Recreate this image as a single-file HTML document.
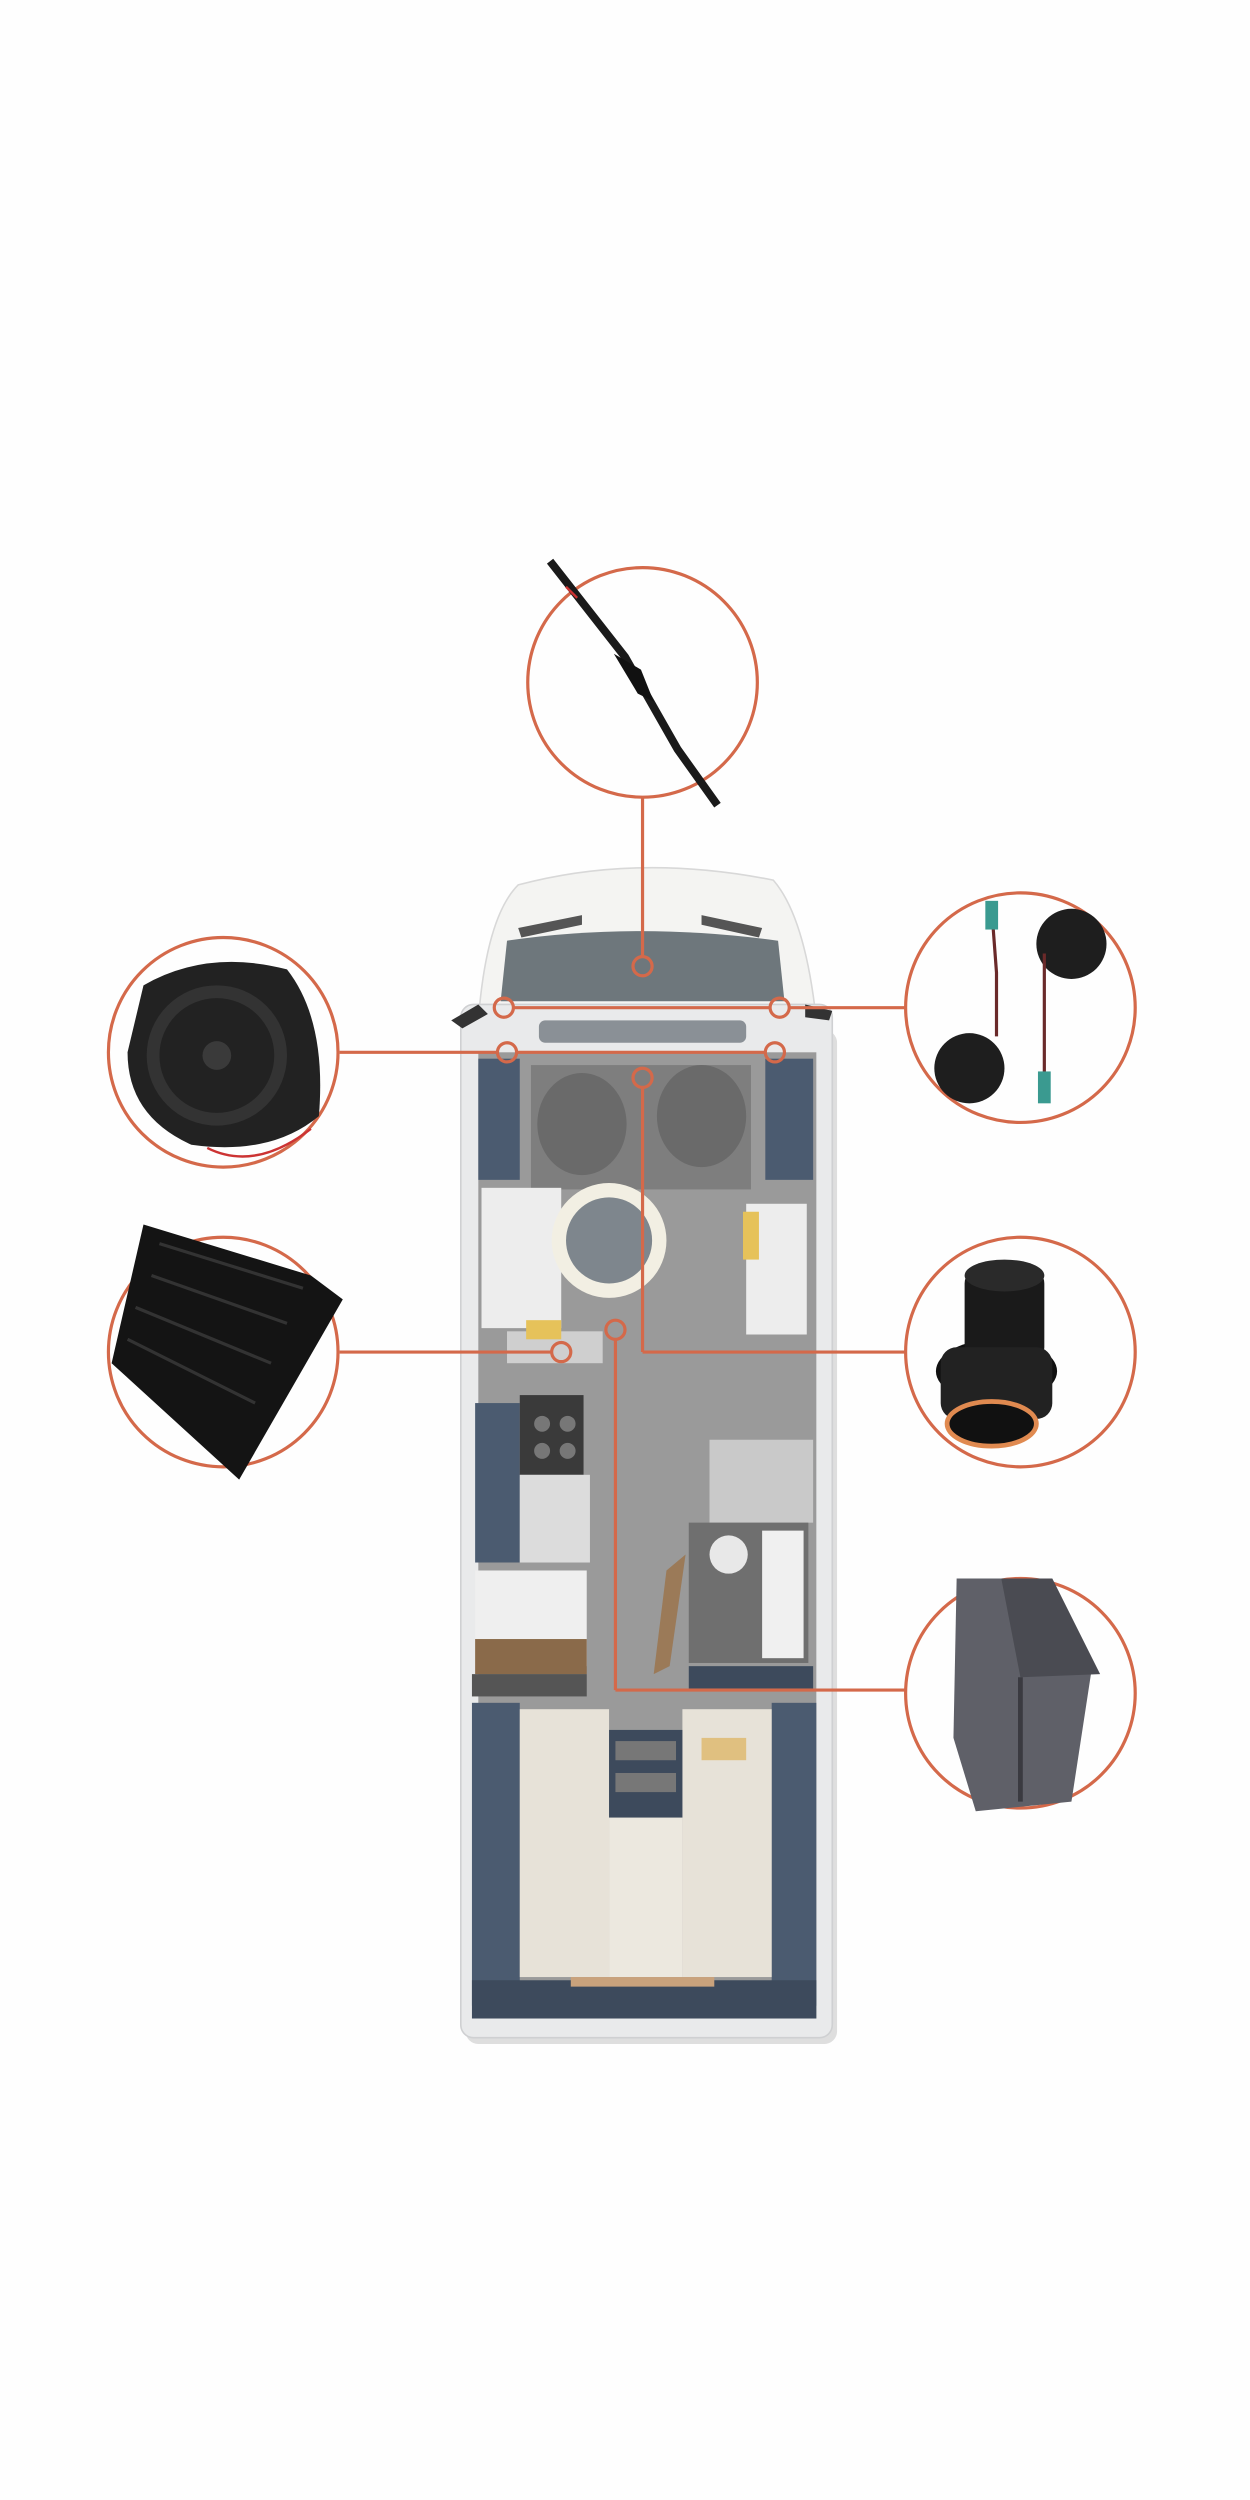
<!DOCTYPE html>
<html><head><meta charset="utf-8"><style>html,body{margin:0;padding:0;background:#fff}svg{display:block}</style></head>
<body>
<svg width="1250" height="2500" viewBox="0 0 1250 2500" xmlns="http://www.w3.org/2000/svg">
<rect width="1250" height="2500" fill="#fefefe"/>
<g transform="scale(1.5944)">
<!-- van body -->
<rect x="292" y="646" width="233" height="636" rx="8" fill="#bdbdbd" opacity="0.5"/>
<path d="M300 640 Q305 575 325 555 Q400 535 485 552 Q505 575 512 640 Z" fill="#f4f4f2" stroke="#d8d8d8"/>
<rect x="289" y="630" width="233" height="648" rx="8" fill="#e9eaeb" stroke="#cfd0d2"/>
<path d="M318 590 Q400 578 488 590 L492 628 L314 628 Z" fill="#6e777c"/>
<path d="M325 582 L365 574 L365 580 L327 588 Z" fill="#555"/>
<path d="M440 574 L478 582 L476 588 L440 580 Z" fill="#555"/>
<path d="M283 640 L300 630 L306 636 L290 645 Z" fill="#333"/>
<path d="M505 630 L522 634 L520 640 L505 638 Z" fill="#333"/>
<rect x="338" y="640" width="130" height="14" rx="4" fill="#8a9096"/>
<rect x="300" y="660" width="212" height="606" fill="#9a9a9a"/>
<!-- cab navy walls -->
<rect x="300" y="664" width="26" height="76" fill="#4b5b70"/>
<rect x="480" y="664" width="30" height="76" fill="#4b5b70"/>
<rect x="333" y="668" width="138" height="78" fill="#7e7e7e"/>
<ellipse cx="365" cy="705" rx="28" ry="32" fill="#6a6a6a"/>
<ellipse cx="440" cy="700" rx="28" ry="32" fill="#6a6a6a"/>
<!-- dinette -->
<rect x="302" y="745" width="50" height="88" fill="#ededed"/>
<rect x="468" y="755" width="38" height="82" fill="#ededed"/>
<rect x="466" y="760" width="10" height="30" fill="#e6c25a"/>
<circle cx="382" cy="778" r="36" fill="#f2efe3"/>
<circle cx="382" cy="778" r="27" fill="#7e868d"/>
<rect x="318" y="835" width="60" height="20" fill="#cfcfcf"/>
<rect x="330" y="828" width="22" height="12" fill="#e6c25a"/>
<!-- kitchen -->
<rect x="298" y="880" width="28" height="100" fill="#4b5b70"/>
<rect x="326" y="875" width="40" height="50" fill="#3a3a3a"/>
<circle cx="340" cy="893" r="5" fill="#777"/><circle cx="356" cy="893" r="5" fill="#777"/>
<circle cx="340" cy="910" r="5" fill="#777"/><circle cx="356" cy="910" r="5" fill="#777"/>
<rect x="326" y="925" width="44" height="55" fill="#dcdcdc"/>
<rect x="298" y="985" width="70" height="60" fill="#efefef"/>
<rect x="298" y="1028" width="70" height="22" fill="#8a6a4a"/>
<rect x="296" y="1050" width="72" height="14" fill="#555"/>
<!-- bathroom -->
<rect x="445" y="903" width="65" height="52" fill="#c9c9c9"/>
<rect x="432" y="955" width="75" height="88" fill="#6f6f6f"/>
<circle cx="457" cy="975" r="12" fill="#e8e8e8"/>
<rect x="478" y="960" width="26" height="80" fill="#f0f0f0"/>
<path d="M418 985 L430 975 L420 1045 L410 1050 Z" fill="#9b7a58"/>
<rect x="432" y="1045" width="78" height="14" fill="#3d4a5c"/>
<!-- rear -->
<rect x="296" y="1068" width="30" height="190" fill="#4b5b70"/>
<rect x="484" y="1068" width="28" height="190" fill="#4b5b70"/>
<rect x="326" y="1072" width="56" height="168" fill="#e7e2d8"/>
<rect x="428" y="1072" width="56" height="168" fill="#e7e2d8"/>
<rect x="382" y="1085" width="46" height="55" fill="#3d4a5c"/>
<rect x="386" y="1092" width="38" height="12" fill="#777"/>
<rect x="386" y="1112" width="38" height="12" fill="#777"/>
<rect x="382" y="1140" width="46" height="100" fill="#ece8df"/>
<rect x="440" y="1090" width="28" height="14" fill="#e0c080"/>
<rect x="296" y="1242" width="216" height="24" fill="#3d4a5c"/>
<rect x="358" y="1240" width="90" height="6" fill="#c9a27c"/>

<!-- connectors -->
<g fill="none" stroke="#d4694a" stroke-width="2">
<line x1="403" y1="500" x2="403" y2="600"/>
<line x1="213" y1="660" x2="312" y2="660"/><line x1="324" y1="660" x2="480" y2="660"/>
<line x1="322" y1="632" x2="483" y2="632"/><line x1="495" y1="632" x2="568" y2="632"/>
<line x1="403" y1="682" x2="403" y2="848"/><line x1="403" y1="848" x2="568" y2="848"/>
<line x1="213" y1="848" x2="346" y2="848"/>
<line x1="386" y1="840" x2="386" y2="1060"/><line x1="386" y1="1060" x2="568" y2="1060"/>
<circle cx="403" cy="606" r="6"/><circle cx="316" cy="632" r="6"/><circle cx="489" cy="632" r="6"/>
<circle cx="318" cy="660" r="6"/><circle cx="486" cy="660" r="6"/><circle cx="403" cy="676" r="6"/>
<circle cx="352" cy="848" r="6"/><circle cx="386" cy="834" r="6"/>
<circle cx="403" cy="428" r="72"/>
<circle cx="140" cy="660" r="72"/>
<circle cx="140" cy="848" r="72"/>
<circle cx="640" cy="632" r="72"/>
<circle cx="640" cy="848" r="72"/>
<circle cx="640" cy="1062" r="72"/>
</g>

<!-- products -->
<g>
<path d="M345 352 L392 412 L425 470 L450 505" stroke="#1a1a1a" stroke-width="5" fill="none"/>
<path d="M385 410 L402 420 L410 440 L400 435 Z" fill="#111"/>
<line x1="355" y1="368" x2="362" y2="375" stroke="#c33" stroke-width="1.5"/>
<!-- speaker -->
<path d="M90 618 Q130 595 180 608 Q205 640 200 700 Q170 725 120 718 Q80 700 80 660 Z" fill="#222"/>
<circle cx="136" cy="662" r="44" fill="#333"/><circle cx="136" cy="662" r="36" fill="#222"/><circle cx="136" cy="662" r="9" fill="#3a3a3a"/>
<path d="M130 720 Q160 735 195 708" stroke="#c33" stroke-width="1.5" fill="none"/>
<!-- amp -->
<path d="M90 768 L195 800 L215 815 L150 928 L70 855 Z" fill="#141414"/>
<path d="M100 780 L190 808 M95 800 L180 830 M85 820 L170 855 M80 840 L160 880" stroke="#333" stroke-width="2"/>
<!-- tweeters -->
<circle cx="672" cy="592" r="22" fill="#1e1e1e"/>
<circle cx="608" cy="670" r="22" fill="#1e1e1e"/>
<path d="M622 570 L625 610 L625 650 M655 598 L655 640 L655 680" stroke="#6a2a2a" stroke-width="2" fill="none"/>
<rect x="618" y="565" width="8" height="18" fill="#3a9a90"/>
<rect x="651" y="672" width="8" height="20" fill="#3a9a90"/>
<!-- knob -->
<ellipse cx="625" cy="860" rx="38" ry="20" fill="#111"/>
<rect x="605" y="795" width="50" height="60" rx="10" fill="#1a1a1a"/>
<ellipse cx="630" cy="800" rx="25" ry="10" fill="#2a2a2a"/>
<rect x="590" y="845" width="70" height="45" rx="10" fill="#222"/>
<ellipse cx="622" cy="893" rx="28" ry="14" fill="#111" stroke="#e08a50" stroke-width="3"/>
<!-- box -->
<path d="M600 990 L628 990 L685 1045 L672 1130 L612 1136 L598 1090 Z" fill="#5f6068"/>
<path d="M628 990 L660 990 L690 1050 L640 1052 Z" fill="#4a4b52"/>
<line x1="640" y1="1052" x2="640" y2="1130" stroke="#3a3a40" stroke-width="3"/>
</g>
</g>
</svg>
</body></html>
